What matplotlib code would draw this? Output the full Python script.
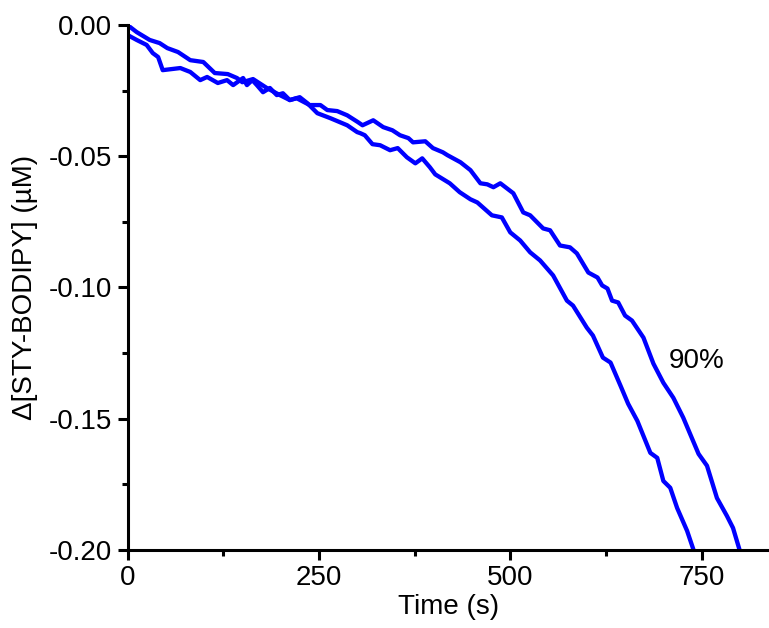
import matplotlib
matplotlib.use("Agg")
import matplotlib.pyplot as plt
from matplotlib.ticker import MultipleLocator, FormatStrFormatter

# upper / outer trace (labelled 90%)
t_90 = [0, 12, 29, 42, 52, 66, 82, 99, 114, 131, 143, 150, 164, 182, 199, 212,
        221, 238, 252, 261, 274, 287, 301, 307, 321, 334, 346, 356, 367, 373,
        389, 399, 412, 418, 435, 448, 461, 470, 478, 487, 504, 517, 526, 543,
        552, 565, 578, 587, 602, 614, 620, 627, 633, 641, 650, 659, 674, 687,
        700, 713, 726, 746, 757, 770, 783, 791, 800]
d_90 = [0.0, -0.0027, -0.0057, -0.0069, -0.0088, -0.0103, -0.0134, -0.0141,
        -0.0183, -0.0187, -0.0202, -0.0218, -0.0206, -0.0240, -0.0267, -0.0286,
        -0.0279, -0.0305, -0.0305, -0.0324, -0.0328, -0.0344, -0.0370, -0.0382,
        -0.0363, -0.0389, -0.0401, -0.0420, -0.0431, -0.0447, -0.0443, -0.0469,
        -0.0485, -0.0496, -0.0523, -0.0553, -0.0603, -0.0607, -0.0618, -0.0603,
        -0.0641, -0.0714, -0.0725, -0.0775, -0.0782, -0.0840, -0.0847, -0.0870,
        -0.0943, -0.0962, -0.0992, -0.1004, -0.1050, -0.1057, -0.1107, -0.1126,
        -0.1191, -0.1290, -0.1363, -0.1420, -0.1496, -0.1634, -0.1679, -0.1802,
        -0.1870, -0.1916, -0.2004]

# lower / inner trace
t_2 = [0, 12, 25, 33, 40, 46, 69, 82, 95, 104, 118, 130, 138, 151, 156, 163,
       169, 177, 186, 195, 203, 212, 225, 235, 248, 265, 287, 300, 304, 310,
       320, 330, 343, 353, 365, 376, 385, 395, 402, 421, 434, 448, 457, 476,
       489, 500, 513, 526, 539, 556, 574, 582, 600, 608, 621, 631, 644, 654,
       666, 683, 692, 700, 709, 718, 731, 739]
d_2 = [-0.0038, -0.0057, -0.0076, -0.0107, -0.0122, -0.0172, -0.0164, -0.0179,
       -0.0210, -0.0198, -0.0221, -0.0210, -0.0229, -0.0202, -0.0229, -0.0210,
       -0.0229, -0.0256, -0.0240, -0.0267, -0.0260, -0.0286, -0.0275, -0.0298,
       -0.0336, -0.0355, -0.0382, -0.0408, -0.0412, -0.0420, -0.0454, -0.0458,
       -0.0477, -0.0469, -0.0504, -0.0527, -0.0508, -0.0542, -0.0569, -0.0603,
       -0.0637, -0.0664, -0.0676, -0.0725, -0.0733, -0.0790, -0.0821, -0.0866,
       -0.0897, -0.0954, -0.1050, -0.1069, -0.1153, -0.1183, -0.1267, -0.1286,
       -0.1374, -0.1443, -0.1508, -0.1630, -0.1649, -0.1737, -0.1763, -0.1840,
       -0.1927, -0.1996]

x_ticks = [0, 250, 500, 750]
y_ticks = [0.0, -0.05, -0.10, -0.15, -0.20]

plt.rcParams["font.family"] = ["Liberation Sans", "DejaVu Sans"]
FS = 20

fig = plt.figure(figsize=(7.69, 6.28), dpi=100)
ax = fig.add_axes([0.1658, 0.1242, 0.8342, 0.836])

ax.plot(t_90, d_90, color="#0000ff", lw=3.1)
ax.plot(t_2, d_2, color="#0000ff", lw=3.1)
ax.text(743, -0.128, "90%", fontsize=FS, ha="center", va="center")

ax.set_xlim(0, 838)
ax.set_ylim(-0.20, 0.0)
ax.set_xticks(x_ticks)
ax.set_yticks(y_ticks)
ax.xaxis.set_minor_locator(MultipleLocator(125))
ax.yaxis.set_minor_locator(MultipleLocator(0.025))
ax.yaxis.set_major_formatter(FormatStrFormatter("%.2f"))

for s in ["top", "right"]:
    ax.spines[s].set_visible(False)
for s in ["left", "bottom"]:
    ax.spines[s].set_linewidth(2.2)

ax.tick_params(which="major", direction="out", length=7, width=2.2, labelsize=FS, pad=4)
ax.tick_params(which="minor", direction="out", length=4, width=2.2)

ax.set_xlabel("Time (s)", fontsize=FS, labelpad=2)
ax.set_ylabel("Δ[STY-BODIPY] (µM)", fontsize=FS, labelpad=8)

fig.savefig("out.png", dpi=100)
